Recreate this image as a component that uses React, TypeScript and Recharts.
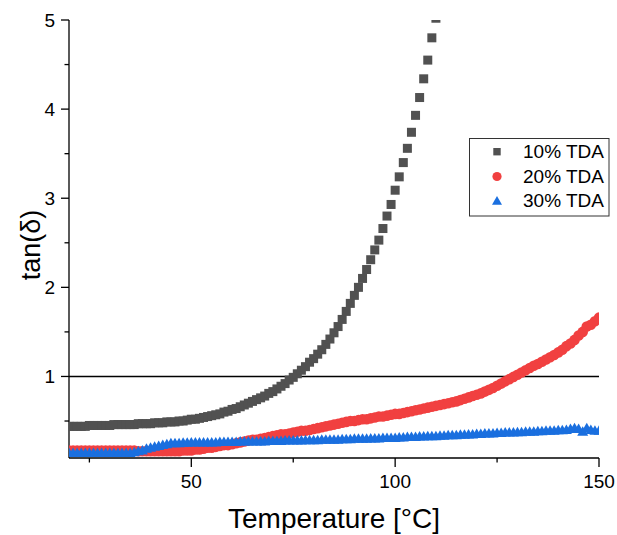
import React from 'react';
import { ScatterChart, Scatter, XAxis, YAxis, ReferenceLine, Legend, Label } from 'recharts';

// Temperature steps (°C)
const temperature: number[] = [
  20, 21, 22, 23, 24, 25, 26, 27, 28, 29, 30, 31, 32, 33, 34, 35, 36, 37, 38, 39,
  40, 41, 42, 43, 44, 45, 46, 47, 48, 49, 50, 51, 52, 53, 54, 55, 56, 57, 58, 59,
  60, 61, 62, 63, 64, 65, 66, 67, 68, 69, 70, 71, 72, 73, 74, 75, 76, 77, 78, 79,
  80, 81, 82, 83, 84, 85, 86, 87, 88, 89, 90, 91, 92, 93, 94, 95, 96, 97, 98, 99,
  100, 101, 102, 103, 104, 105, 106, 107, 108, 109, 110, 111, 112, 113, 114, 115, 116, 117, 118, 119,
  120, 121, 122, 123, 124, 125, 126, 127, 128, 129, 130, 131, 132, 133, 134, 135, 136, 137, 138, 139,
  140, 141, 142, 143, 144, 145, 146, 147, 148, 149, 150,
];

// tan(δ) for 10% TDA (20..110 °C)
const tda10: number[] = [
  0.44, 0.44, 0.44, 0.44, 0.44, 0.45, 0.45, 0.45, 0.45, 0.45,
  0.45, 0.46, 0.46, 0.46, 0.46, 0.46, 0.46, 0.47, 0.47, 0.47,
  0.47, 0.48, 0.48, 0.48, 0.49, 0.49, 0.49, 0.50, 0.50, 0.51,
  0.52, 0.52, 0.53, 0.54, 0.55, 0.56, 0.57, 0.58, 0.60, 0.61,
  0.63, 0.64, 0.66, 0.68, 0.70, 0.72, 0.74, 0.76, 0.78, 0.81,
  0.83, 0.86, 0.89, 0.92, 0.96, 0.99, 1.03, 1.07, 1.11, 1.16,
  1.20, 1.25, 1.30, 1.36, 1.42, 1.49, 1.56, 1.64, 1.73, 1.82,
  1.91, 2.00, 2.10, 2.20, 2.31, 2.42, 2.53, 2.66, 2.80, 2.93,
  3.09, 3.24, 3.40, 3.56, 3.74, 3.93, 4.13, 4.34, 4.55, 4.80,
  5.02,
];

// tan(δ) for 20% TDA (20..150 °C)
const tda20: number[] = [
  0.17, 0.17, 0.17, 0.17, 0.17, 0.17, 0.17, 0.17, 0.17, 0.17,
  0.17, 0.17, 0.17, 0.17, 0.17, 0.17, 0.17, 0.16, 0.16, 0.16,
  0.16, 0.16, 0.16, 0.16, 0.16, 0.16, 0.16, 0.16, 0.17, 0.17,
  0.17, 0.18, 0.18, 0.19, 0.20, 0.20, 0.21, 0.22, 0.23, 0.23,
  0.24, 0.25, 0.26, 0.27, 0.28, 0.29, 0.29, 0.30, 0.31, 0.32,
  0.33, 0.34, 0.35, 0.35, 0.36, 0.37, 0.38, 0.39, 0.39, 0.40,
  0.41, 0.42, 0.43, 0.44, 0.45, 0.46, 0.47, 0.48, 0.49, 0.50,
  0.50, 0.51, 0.52, 0.52, 0.53, 0.54, 0.55, 0.55, 0.56, 0.57,
  0.58, 0.58, 0.59, 0.60, 0.61, 0.62, 0.63, 0.64, 0.65, 0.66,
  0.67, 0.68, 0.69, 0.70, 0.71, 0.72, 0.735, 0.75, 0.765, 0.78,
  0.795, 0.81, 0.83, 0.85, 0.87, 0.895, 0.92, 0.945, 0.97, 0.995,
  1.02, 1.045, 1.07, 1.095, 1.12, 1.14, 1.165, 1.19, 1.215, 1.24,
  1.27, 1.30, 1.34, 1.37, 1.41, 1.46, 1.50, 1.56, 1.58, 1.62,
  1.66,
];

// tan(δ) for 30% TDA (20..150 °C)
const tda30: number[] = [
  0.14, 0.14, 0.14, 0.14, 0.14, 0.14, 0.14, 0.14, 0.14, 0.14,
  0.14, 0.14, 0.14, 0.14, 0.14, 0.14, 0.15, 0.16, 0.17, 0.19,
  0.20, 0.21, 0.22, 0.23, 0.24, 0.25, 0.25, 0.25, 0.255, 0.255,
  0.26, 0.26, 0.26, 0.26, 0.26, 0.26, 0.26, 0.265, 0.265, 0.265,
  0.265, 0.265, 0.27, 0.27, 0.27, 0.27, 0.27, 0.27, 0.27, 0.275,
  0.275, 0.275, 0.275, 0.28, 0.28, 0.28, 0.28, 0.28, 0.285, 0.285,
  0.285, 0.285, 0.29, 0.29, 0.29, 0.29, 0.29, 0.295, 0.295, 0.295,
  0.30, 0.30, 0.30, 0.30, 0.305, 0.305, 0.305, 0.31, 0.31, 0.31,
  0.31, 0.315, 0.315, 0.32, 0.32, 0.32, 0.325, 0.325, 0.33, 0.33,
  0.33, 0.335, 0.335, 0.34, 0.34, 0.34, 0.345, 0.345, 0.35, 0.35,
  0.355, 0.355, 0.36, 0.36, 0.36, 0.365, 0.365, 0.37, 0.37, 0.37,
  0.375, 0.375, 0.38, 0.38, 0.38, 0.385, 0.385, 0.39, 0.39, 0.39,
  0.395, 0.395, 0.40, 0.41, 0.42, 0.41, 0.38, 0.42, 0.40, 0.39,
  0.39,
];

const seriesNames = ['10% TDA', '20% TDA', '30% TDA'];
const xTicks = [25, 50, 75, 100, 125, 150];
const yTicks = [0.5, 1, 1.5, 2, 2.5, 3, 3.5, 4, 4.5, 5];

const COLORS = ['#515151', '#F14040', '#1A6FDF'];
const FONT = '"Liberation Sans", Arial, sans-serif';

const data10 = tda10.map((v, i) => ({ t: temperature[i], v }));
const data20 = tda20.map((v, i) => ({ t: temperature[i], v }));
const data30 = tda30.map((v, i) => ({ t: temperature[i], v }));

const SquareShape = (p: any) => (
  <rect x={p.cx - 4.5} y={p.cy - 4.5} width={9} height={9} fill={COLORS[0]} />
);
const CircleShape = (p: any) => <circle cx={p.cx} cy={p.cy} r={5.3} fill={COLORS[1]} />;
const TriangleShape = (p: any) => (
  <polygon
    points={`${p.cx},${p.cy - 5.5} ${p.cx - 5.5},${p.cy + 4} ${p.cx + 5.5},${p.cy + 4}`}
    fill={COLORS[2]}
  />
);

const XTick = (props: any) => {
  const { x, y, payload } = props;
  const major = payload.value % 50 === 0;
  return (
    <g>
      <line x1={x} x2={x} y1={y} y2={y + (major ? 9 : 4.5)} stroke="#000" strokeWidth={1.3} />
      {major && (
        <text x={x} y={y + 30} textAnchor="middle" fontSize={19} fontFamily={FONT} fill="#000">
          {payload.value}
        </text>
      )}
    </g>
  );
};

const YTick = (props: any) => {
  const { x, y, payload } = props;
  const major = Number.isInteger(payload.value);
  return (
    <g>
      <line x1={x - (major ? 8 : 4.5)} x2={x} y1={y} y2={y} stroke="#000" strokeWidth={1.3} />
      {major && (
        <text x={x - 14} y={y + 7} textAnchor="end" fontSize={19} fontFamily={FONT} fill="#000">
          {payload.value}
        </text>
      )}
    </g>
  );
};

const LegendBox = () => {
  const rows = [13.7, 38.5, 63];
  return (
    <svg width={141} height={79} style={{ display: 'block' }}>
      <rect x={0.5} y={0.5} width={139.5} height={77.5} fill="#fff" stroke="#333" strokeWidth={1} />
      <rect x={28 - 3.7} y={rows[0] - 3.7} width={7.4} height={7.4} fill={COLORS[0]} />
      <circle cx={28} cy={rows[1]} r={4.6} fill={COLORS[1]} />
      <polygon
        points={`28,${rows[2] - 5} ${28 - 5},${rows[2] + 3.8} ${28 + 5},${rows[2] + 3.8}`}
        fill={COLORS[2]}
      />
      {seriesNames.map((n, i) => (
        <text key={n} x={54} y={rows[i] + 6.3} fontSize={19} fontFamily={FONT} fill="#000">
          {n}
        </text>
      ))}
    </svg>
  );
};

export default function App() {
  return (
    <div style={{ position: 'absolute', left: 0, top: 0, width: 617, height: 535, background: '#fff' }}>
      <ScatterChart width={617} height={535} margin={{ top: 20, right: 18, bottom: 0, left: 0 }}>
        <XAxis
          type="number"
          dataKey="t"
          domain={[20, 150]}
          ticks={xTicks}
          interval={0}
          allowDataOverflow
          height={77}
          tickSize={0}
          tickMargin={0}
          tickLine={false}
          tick={<XTick />}
          axisLine={{ stroke: '#000', strokeWidth: 1.3 }}
        >
          <Label
            content={() => (
              <text x={334} y={528} textAnchor="middle" fontSize={28} fontFamily={FONT} fill="#000">
                Temperature [°C]
              </text>
            )}
          />
        </XAxis>
        <YAxis
          type="number"
          dataKey="v"
          domain={[0.085, 5]}
          ticks={yTicks}
          interval={0}
          allowDataOverflow
          width={69}
          tickSize={0}
          tickMargin={0}
          tickLine={false}
          tick={<YTick />}
          axisLine={{ stroke: '#000', strokeWidth: 1.3 }}
        >
          <Label
            content={() => (
              <text
                x={40}
                y={245}
                transform="rotate(-90, 40, 245)"
                textAnchor="middle"
                fontSize={27}
                fontFamily={FONT}
                fill="#000"
              >
                tan(δ)
              </text>
            )}
          />
        </YAxis>
        <ReferenceLine y={1} stroke="#000" strokeWidth={1.5} />
        <Scatter name={seriesNames[0]} data={data10} shape={SquareShape} isAnimationActive={false} />
        <Scatter name={seriesNames[1]} data={data20} shape={CircleShape} isAnimationActive={false} />
        <Scatter name={seriesNames[2]} data={data30} shape={TriangleShape} isAnimationActive={false} />
        <Legend
          layout="vertical"
          align="center"
          verticalAlign="middle"
          content={() => <LegendBox />}
          wrapperStyle={{ left: 469, top: 138, width: 141, height: 79 }}
        />
      </ScatterChart>
    </div>
  );
}
